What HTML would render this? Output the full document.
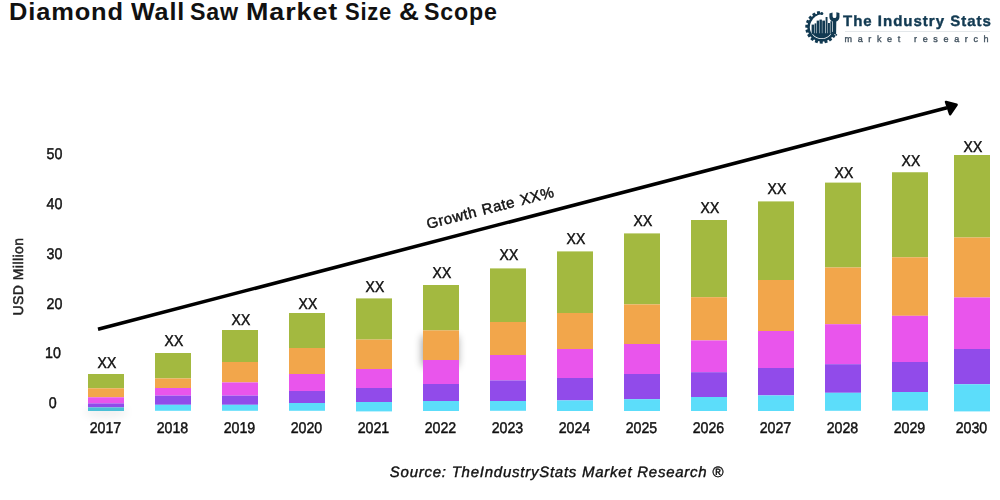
<!DOCTYPE html>
<html><head><meta charset="utf-8"><style>
html,body{margin:0;padding:0;background:#fff;}
body{width:1000px;height:500px;overflow:hidden;position:relative;font-family:"Liberation Sans",sans-serif;}
svg{position:absolute;left:0;top:0;will-change:transform;}
.title{position:absolute;left:0;top:-1.5px;font-size:23px;font-weight:bold;color:#111;white-space:nowrap;letter-spacing:0.8px;}
.tw{position:absolute;top:0;transform-origin:0 0;}
</style></head><body>
<div class="title"><span class="tw" style="left:9.04px;transform:scaleX(1.1050)">Diamond</span><span class="tw" style="left:131.25px;transform:scaleX(1.0904)">Wall</span><span class="tw" style="left:190.24px;transform:scaleX(1.0106)">Saw</span><span class="tw" style="left:246.41px;transform:scaleX(1.1678)">Market</span><span class="tw" style="left:345.29px;transform:scaleX(0.9574)">Size</span><span class="tw" style="left:398.80px;transform:scaleX(1.2000)">&amp;</span><span class="tw" style="left:423.99px;transform:scaleX(1.0085)">Scope</span></div>
<svg width="1000" height="500" viewBox="0 0 1000 500" font-family="Liberation Sans, sans-serif" text-rendering="geometricPrecision">
<defs><filter id="blr" x="-50%" y="-50%" width="200%" height="200%"><feGaussianBlur stdDeviation="4"/></filter><filter id="blr2" x="-50%" y="-50%" width="200%" height="200%"><feGaussianBlur stdDeviation="4"/></filter></defs>
<rect x="422.5" y="336" width="35" height="30" fill="#000" opacity="0.42" filter="url(#blr)"/>
<ellipse cx="106" cy="412" rx="22" ry="6" fill="#000" opacity="0.06" filter="url(#blr2)"/>
<g><rect x="88" y="374" width="36" height="14.30" fill="#A3B940"/><rect x="88" y="388.3" width="36" height="9.00" fill="#F2A64B"/><rect x="88" y="397.3" width="36" height="6.10" fill="#E955EC"/><rect x="88" y="403.4" width="36" height="4.00" fill="#914BEA"/><rect x="88" y="407.4" width="36" height="3.60" fill="#4BBFD6"/><rect x="155" y="353" width="36" height="25.40" fill="#A3B940"/><rect x="155" y="378.4" width="36" height="9.60" fill="#F2A64B"/><rect x="155" y="388" width="36" height="7.60" fill="#E955EC"/><rect x="155" y="395.6" width="36" height="9.20" fill="#914BEA"/><rect x="155" y="404.8" width="36" height="6.00" fill="#5CDDFA"/><rect x="222" y="330" width="36" height="32.00" fill="#A3B940"/><rect x="222" y="362" width="36" height="20.40" fill="#F2A64B"/><rect x="222" y="382.4" width="36" height="13.20" fill="#E955EC"/><rect x="222" y="395.6" width="36" height="9.20" fill="#914BEA"/><rect x="222" y="404.8" width="36" height="6.00" fill="#5CDDFA"/><rect x="289" y="313" width="36" height="35.00" fill="#A3B940"/><rect x="289" y="348" width="36" height="26.00" fill="#F2A64B"/><rect x="289" y="374" width="36" height="17.00" fill="#E955EC"/><rect x="289" y="391" width="36" height="12.00" fill="#914BEA"/><rect x="289" y="403" width="36" height="7.80" fill="#5CDDFA"/><rect x="356" y="298.4" width="36" height="41.20" fill="#A3B940"/><rect x="356" y="339.6" width="36" height="29.40" fill="#F2A64B"/><rect x="356" y="369" width="36" height="19.00" fill="#E955EC"/><rect x="356" y="388" width="36" height="14.00" fill="#914BEA"/><rect x="356" y="402" width="36" height="9.40" fill="#5CDDFA"/><rect x="423" y="285" width="36" height="45.40" fill="#A3B940"/><rect x="423" y="330.4" width="36" height="29.60" fill="#F2A64B"/><rect x="423" y="360" width="36" height="24.00" fill="#E955EC"/><rect x="423" y="384" width="36" height="17.00" fill="#914BEA"/><rect x="423" y="401" width="36" height="10.00" fill="#5CDDFA"/><rect x="490" y="268.4" width="36" height="53.60" fill="#A3B940"/><rect x="490" y="322" width="36" height="33.00" fill="#F2A64B"/><rect x="490" y="355" width="36" height="25.40" fill="#E955EC"/><rect x="490" y="380.4" width="36" height="20.60" fill="#914BEA"/><rect x="490" y="401" width="36" height="9.80" fill="#5CDDFA"/><rect x="557" y="251.4" width="36" height="61.60" fill="#A3B940"/><rect x="557" y="313" width="36" height="36.00" fill="#F2A64B"/><rect x="557" y="349" width="36" height="29.00" fill="#E955EC"/><rect x="557" y="378" width="36" height="22.40" fill="#914BEA"/><rect x="557" y="400.4" width="36" height="10.60" fill="#5CDDFA"/><rect x="624" y="233.4" width="36" height="71.00" fill="#A3B940"/><rect x="624" y="304.4" width="36" height="39.60" fill="#F2A64B"/><rect x="624" y="344" width="36" height="30.00" fill="#E955EC"/><rect x="624" y="374" width="36" height="25.20" fill="#914BEA"/><rect x="624" y="399.2" width="36" height="11.80" fill="#5CDDFA"/><rect x="691" y="220" width="36" height="77.20" fill="#A3B940"/><rect x="691" y="297.2" width="36" height="43.20" fill="#F2A64B"/><rect x="691" y="340.4" width="36" height="31.80" fill="#E955EC"/><rect x="691" y="372.2" width="36" height="24.80" fill="#914BEA"/><rect x="691" y="397" width="36" height="14.00" fill="#5CDDFA"/><rect x="758" y="201.4" width="36" height="78.60" fill="#A3B940"/><rect x="758" y="280" width="36" height="51.00" fill="#F2A64B"/><rect x="758" y="331" width="36" height="37.00" fill="#E955EC"/><rect x="758" y="368" width="36" height="27.40" fill="#914BEA"/><rect x="758" y="395.4" width="36" height="15.60" fill="#5CDDFA"/><rect x="825" y="182.6" width="36" height="84.90" fill="#A3B940"/><rect x="825" y="267.5" width="36" height="56.70" fill="#F2A64B"/><rect x="825" y="324.2" width="36" height="40.00" fill="#E955EC"/><rect x="825" y="364.2" width="36" height="28.60" fill="#914BEA"/><rect x="825" y="392.8" width="36" height="18.00" fill="#5CDDFA"/><rect x="892" y="172.25" width="36" height="85.05" fill="#A3B940"/><rect x="892" y="257.3" width="36" height="58.50" fill="#F2A64B"/><rect x="892" y="315.8" width="36" height="46.20" fill="#E955EC"/><rect x="892" y="362" width="36" height="30.00" fill="#914BEA"/><rect x="892" y="392" width="36" height="18.60" fill="#5CDDFA"/><rect x="954" y="155" width="36" height="82.50" fill="#A3B940"/><rect x="954" y="237.5" width="36" height="60.00" fill="#F2A64B"/><rect x="954" y="297.5" width="36" height="51.50" fill="#E955EC"/><rect x="954" y="349" width="36" height="35.25" fill="#914BEA"/><rect x="954" y="384.25" width="36" height="27.15" fill="#5CDDFA"/></g>
<g font-size="15.5" fill="#111" stroke="#111" stroke-width="0.45" text-anchor="middle"><text transform="translate(106.9,368.0) scale(0.9,1)">XX</text><text transform="translate(173.9,346.40000000000003) scale(0.9,1)">XX</text><text transform="translate(240.9,325.1) scale(0.9,1)">XX</text><text transform="translate(307.9,308.7) scale(0.9,1)">XX</text><text transform="translate(374.9,292.3) scale(0.9,1)">XX</text><text transform="translate(441.9,278.3) scale(0.9,1)">XX</text><text transform="translate(508.9,260.3) scale(0.9,1)">XX</text><text transform="translate(575.9,243.60000000000002) scale(0.9,1)">XX</text><text transform="translate(642.9,226.0) scale(0.9,1)">XX</text><text transform="translate(709.9,212.5) scale(0.9,1)">XX</text><text transform="translate(776.9,194.10000000000002) scale(0.9,1)">XX</text><text transform="translate(843.9,178.3) scale(0.9,1)">XX</text><text transform="translate(910.9,166.3) scale(0.9,1)">XX</text><text transform="translate(972.9,151.70000000000002) scale(0.9,1)">XX</text></g>
<g font-size="15.5" fill="#111" stroke="#111" stroke-width="0.45" text-anchor="middle"><text transform="translate(105.4,433) scale(0.915,1)">2017</text><text transform="translate(172.4,433) scale(0.915,1)">2018</text><text transform="translate(239.4,433) scale(0.915,1)">2019</text><text transform="translate(306.4,433) scale(0.915,1)">2020</text><text transform="translate(373.4,433) scale(0.915,1)">2021</text><text transform="translate(440.4,433) scale(0.915,1)">2022</text><text transform="translate(507.4,433) scale(0.915,1)">2023</text><text transform="translate(574.4,433) scale(0.915,1)">2024</text><text transform="translate(641.4,433) scale(0.915,1)">2025</text><text transform="translate(708.4,433) scale(0.915,1)">2026</text><text transform="translate(775.4,433) scale(0.915,1)">2027</text><text transform="translate(842.4,433) scale(0.915,1)">2028</text><text transform="translate(909.4,433) scale(0.915,1)">2029</text><text transform="translate(971.4,433) scale(0.915,1)">2030</text></g>
<g font-size="15.5" fill="#111" stroke="#111" stroke-width="0.45" text-anchor="middle"><text transform="translate(54.5,159.2) scale(0.92,1)">50</text><text transform="translate(54.5,209.0) scale(0.92,1)">40</text><text transform="translate(54.5,258.7) scale(0.92,1)">30</text><text transform="translate(54.5,308.5) scale(0.92,1)">20</text><text transform="translate(53,358.2) scale(0.92,1)">10</text><text transform="translate(52.7,408.0) scale(0.92,1)">0</text></g>
<text transform="translate(23,276.5) rotate(-90)" font-size="14" fill="#222" stroke="#222" stroke-width="0.5" letter-spacing="0.45" text-anchor="middle">USD Million</text>
<line x1="98" y1="329.2" x2="947" y2="107.8" stroke="#000" stroke-width="3.6"/>
<polygon points="946,101.9 956.6,104.7 950.1,114.2" fill="#000" stroke="#000" stroke-width="2.5" stroke-linejoin="round"/>
<text transform="translate(428,229) rotate(-14.3)" font-size="15" fill="#111" stroke="#111" stroke-width="0.45" letter-spacing="0.5" word-spacing="1">Growth Rate XX%</text>
<text x="557" y="476.8" font-size="15" font-style="italic" fill="#111" stroke="#111" stroke-width="0.4" text-anchor="middle" letter-spacing="0.75">Source: TheIndustryStats Market Research ®</text>

<g transform="translate(802,8)" fill="#123a52">
<polygon points="32.14,25.97 31.65,26.82 31.10,27.63 30.49,28.41 29.84,29.14 29.13,29.82 28.38,30.46 27.59,31.04 26.76,31.56 25.89,32.03 25.00,32.43 24.07,32.78 23.13,33.05 22.17,33.27 21.20,33.41 20.22,33.49 19.24,33.50 18.26,33.44 17.28,33.31 16.32,33.12 15.37,32.86 14.44,32.53 13.54,32.14 12.67,31.69 11.82,31.18 11.02,30.62 10.26,30.00 9.54,29.32 8.87,28.60 8.25,27.84 7.69,27.03 7.18,26.19 6.74,25.32 6.35,24.41 6.03,23.48 5.77,22.53 5.58,21.57 5.46,20.60 5.40,19.61 5.42,18.63 5.50,17.65 5.64,16.68 5.86,15.72 6.14,14.78 6.48,13.86 6.89,12.96 7.36,12.10 7.89,11.27 8.47,10.48 9.11,9.73 9.80,9.03 10.53,8.37 11.31,7.77 12.12,7.23 12.98,6.74 13.86,6.31 14.77,5.95 15.71,5.64 16.66,5.41 17.63,5.24 18.61,5.13 18.70,6.38 17.82,6.57 16.96,6.81 16.13,7.11 15.33,7.47 14.56,7.88 13.82,8.34 13.13,8.85 12.47,9.39 11.86,9.98 11.30,10.61 10.79,11.27 10.33,11.95 9.91,12.66 9.47,13.34 9.08,14.06 8.75,14.80 8.46,15.56 8.23,16.34 8.05,17.13 7.93,17.94 7.86,18.75 7.85,19.56 7.90,20.37 8.00,21.18 8.16,21.98 8.37,22.76 8.64,23.53 8.96,24.28 9.33,25.00 9.75,25.70 10.21,26.37 10.72,27.00 11.28,27.59 11.87,28.15 12.50,28.66 13.17,29.13 13.86,29.55 14.58,29.93 15.33,30.25 16.10,30.52 16.88,30.73 17.68,30.89 18.49,31.00 19.30,31.05 20.11,31.04 20.92,30.98 21.73,30.86 22.52,30.68 23.30,30.45 24.06,30.17 24.81,29.83 25.52,29.45 26.21,29.01 26.87,28.53 27.49,28.01 28.07,27.44 28.61,26.84 29.11,26.20 29.57,25.52 29.97,24.82"/>
<circle cx="19.73" cy="5.51" r="1.6"/>
<polygon points="31.25,25.71 33.66,27.75 31.98,30.06 29.30,28.40"/>
<polygon points="28.62,29.07 30.25,31.77 27.92,33.43 25.91,31.01"/>
<polygon points="25.05,31.43 25.74,34.51 23.01,35.34 21.86,32.41"/>
<polygon points="20.92,32.53 20.60,35.67 17.74,35.59 17.59,32.45"/>
<polygon points="16.65,32.27 15.36,35.14 12.67,34.16 13.52,31.13"/>
<polygon points="12.69,30.66 10.55,32.98 8.31,31.20 10.08,28.59"/>
<polygon points="9.44,27.88 6.68,29.40 5.12,27.00 7.63,25.09"/>
<polygon points="7.24,24.22 4.14,24.77 3.42,22.01 6.41,20.99"/>
<polygon points="6.32,20.04 3.20,19.59 3.40,16.73 6.55,16.72"/>
<polygon points="6.77,15.79 3.96,14.37 5.05,11.73 8.05,12.71"/>
<polygon points="8.55,11.90 6.33,9.66 8.21,7.50 10.74,9.39"/>
<polygon points="11.47,8.78 10.08,5.95 12.54,4.50 14.34,7.08"/>
<polygon points="15.23,6.74 14.81,3.62 17.60,3.02 18.49,6.05"/>
<polygon points="33.00,25.30 29.80,23.42 29.44,24.21 29.02,24.98 28.54,25.70 28.01,26.39 27.42,27.03 26.79,27.63 26.11,28.17 25.39,28.66 24.63,29.08 23.84,29.45 23.02,29.75 22.19,29.99 21.33,30.16 20.47,30.27 19.60,30.30 18.73,30.27 17.87,30.16 17.01,29.99 16.18,29.75 15.36,29.45 14.57,29.08 13.81,28.66 13.09,28.17 12.41,27.63 11.78,27.03 11.19,26.39 10.66,25.70 10.18,24.98 9.76,24.21 9.40,23.42 10.30,25.30"/>
<circle cx="34.3" cy="26.8" r="0.9"/>
<rect x="9.6" y="16.6" width="2.60" height="9.60"/>
<rect x="12.6" y="15.4" width="1.70" height="10.80"/>
<rect x="14.7" y="12.6" width="2.40" height="13.60"/>
<rect x="17.5" y="11.6" width="2.40" height="14.60"/>
<rect x="20.3" y="12.6" width="2.70" height="13.60"/>
<rect x="23.6" y="9.0" width="1.90" height="17.20"/>
<rect x="25.9" y="15.0" width="2.00" height="11.20"/>
<rect x="28.4" y="13.2" width="1.80" height="13.00"/>
<path d="M27.4,5.4 L30.5,4.4 L30.6,8.2 A1.9,1.9 0 0 0 34.4,8.2 L34.4,4.2 L37.4,5.0 L37.5,8.9 C37.4,11.4 35.8,12.9 34.3,13.6 L34.1,26.2 L30.9,26.2 L30.8,13.6 C29.2,12.9 27.4,11.4 27.4,8.9 Z"/>
</g>
<text x="843" y="25.9" font-size="15" font-weight="bold" fill="#123a52" stroke="#123a52" stroke-width="0.4" letter-spacing="1.0">The Industry Stats</text>
<rect x="845" y="31" width="145" height="1" fill="#e3e7ea"/>
<text x="844.5" y="41.5" font-size="9" fill="#42525f" stroke="#42525f" stroke-width="0.35" letter-spacing="5.65">market research</text>
</svg>
</body></html>
